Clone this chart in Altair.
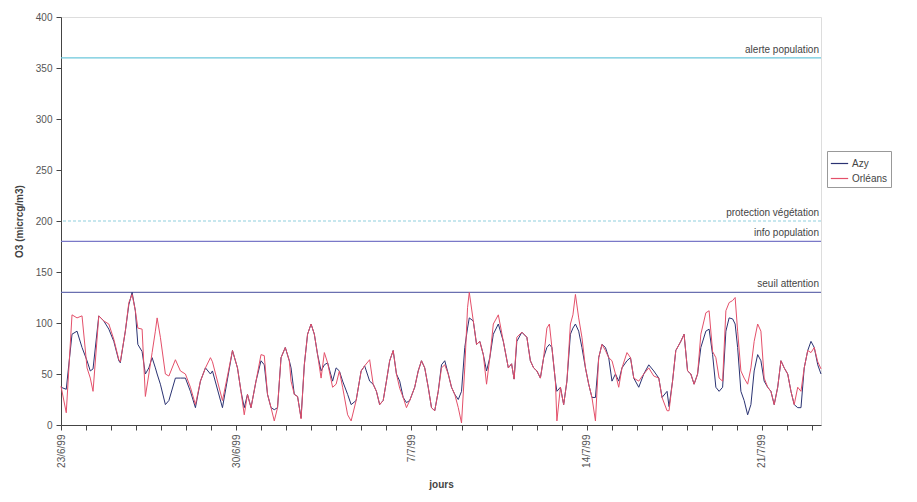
import altair as alt
import pandas as pd

# --- data (x = days since 23/6/99 00:00) ---
days = [0.00,0.21,0.44,0.64,0.84,1.04,1.17,1.28,1.51,1.71,1.91,2.11,2.31,2.37,2.57,2.71,2.84,2.97,3.07,3.24,3.37,3.51,3.64,3.77,3.84,3.97,4.17,4.31,4.57,4.77,4.97,5.17,5.37,5.57,5.77,5.97,
        6.05,6.45,6.65,6.85,7.05,7.19,7.32,7.45,7.59,7.79,7.99,8.12,8.25,8.39,8.52,8.65,8.79,8.96,9.12,9.19,9.32,9.45,9.59,9.72,9.85,9.99,10.12,10.25,10.39,10.52,10.65,10.85,10.99,11.12,11.25,11.45,11.59,11.79,11.99,
        12.13,12.33,12.47,12.6,12.73,12.87,13.0,13.13,13.27,13.4,13.53,13.67,13.8,13.93,14.13,14.27,14.4,14.53,14.67,14.8,14.93,15.07,15.2,15.33,15.47,15.6,15.73,15.87,16.0,16.13,16.24,16.31,16.47,16.6,16.73,16.87,17.0,17.13,17.27,17.47,17.67,17.87,18.0,
        18.1,18.21,18.41,18.61,18.75,18.88,19.01,19.15,19.28,19.41,19.51,19.61,19.75,19.81,19.95,20.08,20.21,20.35,20.45,20.55,20.68,20.81,20.95,21.08,21.21,21.35,21.48,21.61,21.75,21.88,22.01,22.15,22.28,22.41,22.61,22.75,22.88,23.08,23.28,23.48,23.68,23.88,24.01,24.21,
        24.29,24.43,24.56,24.76,24.89,25.03,25.16,25.29,25.43,25.56,25.76,25.89,26.03,26.16,26.29,26.43,26.56,26.69,26.83,26.93,27.03,27.16,27.29,27.43,27.56,27.69,27.83,27.96,28.09,28.23,28.36,28.49,28.63,28.76,28.89,29.03,29.16,29.29,29.43,29.56,29.69,29.83,29.96,30.09,30.23,30.36]

azy = [37,35,89,92,76,63,53,55,107,102,94,82,63,61,92,118,130,112,79,72,50,56,66,56,50,40,20,24,46,46,46,33,17,43,56,50,
       53,17,45,73,56,33,17,30,17,43,63,59,30,17,15,17,66,76,63,56,30,28,7,59,89,99,89,69,53,59,61,43,56,53,43,30,20,24,53,
       58,43,40,33,20,24,43,63,73,50,43,27,22,24,37,53,63,56,37,17,14,33,59,63,50,37,30,25,33,76,95,105,102,79,82,69,53,66,89,99,82,56,60,
       45,82,91,86,63,56,53,46,66,76,79,76,43,33,37,20,43,89,95,99,92,76,56,40,27,27,66,79,76,66,43,50,43,56,63,66,46,37,50,59,53,46,27,33,
       18,43,73,82,89,53,50,40,50,76,92,94,69,37,33,37,92,105,104,99,76,33,24,10,20,53,69,63,43,37,33,20,37,63,56,50,33,20,17,17,56,73,82,76,59,50]

orleans = [38,12,108,105,107,56,46,33,107,102,99,84,64,62,92,120,128,112,95,94,28,50,71,92,105,86,50,48,64,53,50,37,20,43,56,66,
           62,24,48,73,56,33,10,30,17,43,69,68,30,17,4,17,66,76,63,43,30,28,6,59,89,99,89,69,46,71,61,37,40,53,37,10,4,24,53,
           58,64,40,33,20,24,43,63,73,50,36,27,17,24,37,53,63,56,37,17,14,33,56,59,50,37,30,17,2,56,115,130,102,79,82,69,40,66,99,108,82,56,60,
           45,86,91,86,63,56,53,46,66,95,99,76,43,4,37,20,43,99,108,128,105,86,56,40,27,4,66,79,73,66,63,50,37,56,71,66,46,43,50,56,48,46,27,14,
           14,43,73,82,89,53,50,40,50,89,110,112,72,66,46,43,112,120,122,125,92,53,46,40,56,82,99,92,46,37,33,20,37,63,56,50,33,20,37,33,56,73,71,76,62,55]

series_names = ["Azy", "Orléans"]
series_colors = ["#2a3272", "#e4506a"]

thresholds = [360, 200, 180, 130]
threshold_labels = ["alerte population", "protection végétation", "info population", "seuil attention"]
threshold_colors = ["#6cc8dc", "#8fd0de", "#7a78c8", "#6a6fb0"]
threshold_dash = [[1, 0], [3, 2], [1, 0], [1, 0]]

week_labels = ["23/6/99", "30/6/99", "7/7/99", "14/7/99", "21/7/99"]
day_ticks = list(range(0, 31))

W, H = 760, 408
FONT = "Liberation Sans"

df = pd.DataFrame({"jour": days * 2,
                   "o3": azy + orleans,
                   "station": [series_names[0]] * len(days) + [series_names[1]] * len(days)})

label_arr = "[" + ",".join("'" + s + "'" for s in week_labels) + "]"
xscale = alt.Scale(domain=[0, 30.36], nice=False, zero=False)
yscale = alt.Scale(domain=[0, 400], nice=False)

lines = alt.Chart(df).mark_line(strokeWidth=1).encode(
    x=alt.X("jour:Q", scale=xscale,
            axis=alt.Axis(title="jours", values=day_ticks,
                          labelExpr=f"datum.value % 7 == 0 ? {label_arr}[datum.value / 7] : ''",
                          labelAngle=270, labelAlign="right", labelBaseline="middle",
                          labelPadding=4, grid=False, tickSize=5, tickColor="#444",
                          domainColor="#444", labelColor="#555", labelFontSize=10,
                          titleFontSize=10, titleFontWeight="bold", titleColor="#444",
                          titlePadding=12, labelFont=FONT, titleFont=FONT)),
    y=alt.Y("o3:Q", scale=yscale,
            axis=alt.Axis(title="O3 (micrcg/m3)", values=list(range(0, 401, 50)),
                          grid=False, tickSize=5, tickColor="#444", domainColor="#444",
                          labelColor="#555", labelFontSize=10, titleFontSize=10,
                          titleFontWeight="bold", titleColor="#444", titlePadding=11,
                          labelPadding=4, labelFont=FONT, titleFont=FONT)),
    color=alt.Color("station:N",
                    scale=alt.Scale(domain=series_names, range=series_colors),
                    legend=alt.Legend(title=None, orient="none", legendX=W + 6, legendY=134,
                                      symbolType="stroke", symbolStrokeWidth=1.2,
                                      symbolSize=300, labelFontSize=10, labelColor="#444",
                                      labelFont=FONT, strokeColor="#999", padding=3,
                                      rowPadding=0, labelOffset=3)),
    detail="station:N",
)

layers = []
for v, lab, col, dash in zip(thresholds, threshold_labels, threshold_colors, threshold_dash):
    tdf = pd.DataFrame({"seuil": [v], "nom": [lab]})
    rule = alt.Chart(tdf).mark_rule(color=col, strokeWidth=1.2, strokeDash=dash).encode(
        y=alt.Y("seuil:Q", scale=yscale))
    txt = alt.Chart(tdf).mark_text(align="right", baseline="bottom", dy=-3, fontSize=10,
                                   color="#444", font=FONT).encode(
        x=alt.value(W - 2), y=alt.Y("seuil:Q", scale=yscale), text="nom:N")
    layers += [rule, txt]

chart = alt.layer(*layers, lines).properties(
    width=W, height=H, padding={"top": 4, "left": 6, "right": 0, "bottom": 0}
).configure_view(stroke="#bbbbbb", strokeDash=[3, 3], strokeWidth=1
).configure(background="white")

chart.save("out.html", embed_options={"renderer": "svg", "actions": False})
